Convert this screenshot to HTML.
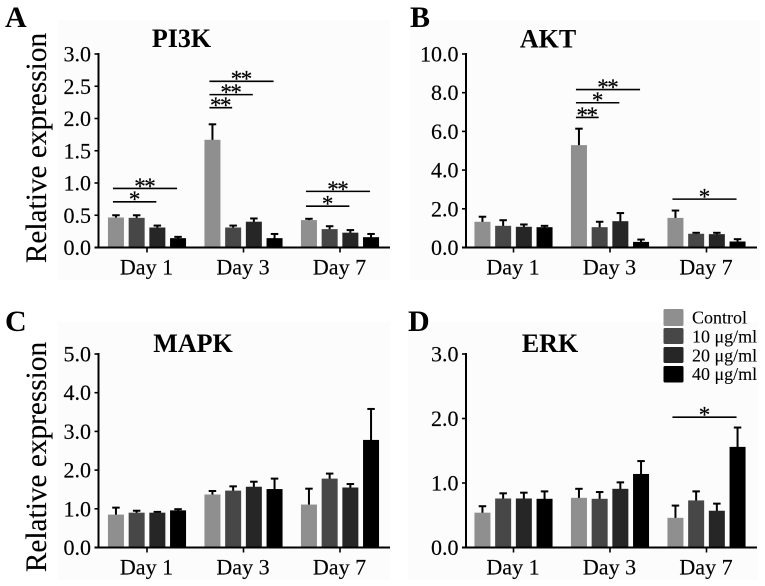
<!DOCTYPE html>
<html lang="en">
<head>
<meta charset="utf-8">
<title>Relative expression charts</title>
<style>
html,body{margin:0;padding:0;background:#fff;}
#figure{display:block;width:765px;height:586px;font-family:"Liberation Serif",serif;color:#000;filter:blur(0.35px);}
text{font-family:"Liberation Serif",serif;fill:#000;}
.tick{font-size:22px;stroke:#000;stroke-width:0.15px;}
.title{font-size:26px;font-weight:bold;text-anchor:middle;}
.letter{font-size:30px;font-weight:bold;}
.ytitle{font-size:29.3px;text-anchor:middle;stroke:#000;stroke-width:0.15px;}
.legend{font-size:18px;stroke:#000;stroke-width:0.1px;}
.star{font-size:23px;letter-spacing:-1.5px;text-anchor:middle;stroke:#000;stroke-width:0.2px;}
</style>
</head>
<body>
<svg id="figure" xmlns="http://www.w3.org/2000/svg" width="765" height="586" viewBox="0 0 765 586">
  <g fill="#fcfcfc">
    <rect x="58" y="20" width="332" height="260"/>
    <rect x="410" y="20" width="350" height="260"/>
    <rect x="58" y="322" width="332" height="258"/>
    <rect x="408" y="322" width="350" height="258"/>
  </g>
  <text class="letter" x="5" y="27">A</text>
  <text class="letter" x="410" y="27">B</text>
  <text class="letter" x="5" y="331">C</text>
  <text class="letter" x="408" y="331">D</text>
  <text class="title" x="181.5" y="47">PI3K</text>
  <text class="title" x="548" y="47.5">AKT</text>
  <text class="title" x="193" y="352">MAPK</text>
  <text class="title" x="550" y="352">ERK</text>
  <text class="ytitle" transform="translate(46 148) rotate(-90)">Relative expression</text>
  <text class="ytitle" transform="translate(46 457) rotate(-90)">Relative expression</text>
  <g id="charts"></g>
  <g>
    <rect x="663.5" y="309" width="20" height="17" rx="1.5" fill="#8f8f8f"/>
    <rect x="663.5" y="328" width="20" height="16" rx="1.5" fill="#474747"/>
    <rect x="663.5" y="347" width="20" height="16" rx="1.5" fill="#262626"/>
    <rect x="663.5" y="366" width="20" height="16.5" rx="1.5" fill="#000"/>
    <text class="legend" x="692" y="323.5">Control</text>
    <text class="legend" x="692" y="342.5">10 μg/ml</text>
    <text class="legend" x="692" y="361.5">20 μg/ml</text>
    <text class="legend" x="692" y="380">40 μg/ml</text>
  </g>
</svg>
<script>
const categories = ['Day 1', 'Day 3', 'Day 7'];
const seriesNames = ['Control', '10 ug/ml', '20 ug/ml', '40 ug/ml'];
const seriesColors = ['#8f8f8f', '#474747', '#262626', '#000000'];

const pi3kTicks = ['0.0', '0.5', '1.0', '1.5', '2.0', '2.5', '3.0'];
const pi3kValues = [[0.465, 0.46, 0.31, 0.145], [1.67, 0.31, 0.40, 0.145], [0.425, 0.285, 0.23, 0.16]];
const pi3kUpper = [[0.50, 0.50, 0.34, 0.165], [1.91, 0.34, 0.45, 0.21], [0.445, 0.33, 0.27, 0.21]];
const pi3kSigDay = [0, 0, 1, 1, 1, 2, 2];
const pi3kSigToBar = [3, 2, 3, 2, 1, 3, 2];
const pi3kSigLevel = [0.916, 0.709, 2.576, 2.37, 2.167, 0.87, 0.64];
const pi3kSigLabel = ['**', '*', '**', '**', '**', '**', '*'];

const aktTicks = ['0.0', '2.0', '4.0', '6.0', '8.0', '10.0'];
const aktValues = [[1.33, 1.12, 1.07, 1.05], [5.29, 1.05, 1.36, 0.29], [1.53, 0.71, 0.69, 0.31]];
const aktUpper = [[1.59, 1.41, 1.19, 1.12], [6.14, 1.33, 1.78, 0.41], [1.91, 0.76, 0.76, 0.43]];
const aktSigDay = [1, 1, 1, 2];
const aktSigToBar = [3, 2, 1, 3];
const aktSigLevel = [8.16, 7.48, 6.72, 2.5];
const aktSigLabel = ['**', '*', '**', '*'];

const mapkTicks = ['0.0', '1.0', '2.0', '3.0', '4.0', '5.0'];
const mapkValues = [[0.85, 0.90, 0.90, 0.96], [1.37, 1.47, 1.57, 1.51], [1.11, 1.78, 1.55, 2.78]];
const mapkUpper = [[1.03, 0.95, 0.92, 0.99], [1.46, 1.58, 1.70, 1.78], [1.52, 1.91, 1.64, 3.58]];
const mapkSigDay = [];
const mapkSigToBar = [];
const mapkSigLevel = [];
const mapkSigLabel = [];

const erkTicks = ['0.0', '1.0', '2.0', '3.0'];
const erkValues = [[0.54, 0.76, 0.76, 0.755], [0.77, 0.755, 0.91, 1.14], [0.46, 0.73, 0.57, 1.56]];
const erkUpper = [[0.64, 0.84, 0.85, 0.87], [0.91, 0.86, 1.01, 1.34], [0.65, 0.87, 0.68, 1.86]];
const erkSigDay = [2];
const erkSigToBar = [3];
const erkSigLevel = [2.02];
const erkSigLabel = ['*'];

const SVG_NS = 'http://www.w3.org/2000/svg';
const root = document.getElementById('charts');

function drawChart(name, box, ticks, values, upper, sigDay, sigToBar, sigLevel, sigLabel) {
  const g = document.createElementNS(SVG_NS, 'g');
  
  
  root.appendChild(g);

  const maxValue = parseFloat(ticks[ticks.length - 1]);
  const yScale = function (v) { return box.y0 - (v / maxValue) * (box.y0 - box.yTop); };
  const groupCenter = function (i) { return box.firstCenter + i * box.groupStep; };
  const barCenter = function (i, j) { return groupCenter(i) + (j - 1.5) * box.barStep; };

  categories.forEach(function (cat, i) {
    seriesNames.forEach(function (s, j) {
      const v = values[i][j];
      const cx = barCenter(i, j);
      const top = yScale(v);
      const up = yScale(upper[i][j]);

      const stem = document.createElementNS(SVG_NS, 'line');
      
      
      stem.setAttribute('x1', cx);
      stem.setAttribute('x2', cx);
      stem.setAttribute('y1', top + 1);
      stem.setAttribute('y2', up);
      stem.setAttribute('stroke', '#000');
      stem.setAttribute('stroke-width', 2);
      g.appendChild(stem);

      const cap = document.createElementNS(SVG_NS, 'line');
      
      
      cap.setAttribute('x1', cx - 3.75);
      cap.setAttribute('x2', cx + 3.75);
      cap.setAttribute('y1', up);
      cap.setAttribute('y2', up);
      cap.setAttribute('stroke', '#000');
      cap.setAttribute('stroke-width', 2);
      g.appendChild(cap);

      const bar = document.createElementNS(SVG_NS, 'rect');
      
      
      bar.setAttribute('x', cx - box.barWidth / 2);
      bar.setAttribute('y', top);
      bar.setAttribute('width', box.barWidth);
      bar.setAttribute('height', box.y0 - top);
      bar.setAttribute('fill', seriesColors[j]);
      g.appendChild(bar);
    });
  });

  const yAxis = document.createElementNS(SVG_NS, 'line');
  
  
  yAxis.setAttribute('x1', box.axisX);
  yAxis.setAttribute('x2', box.axisX);
  yAxis.setAttribute('y1', box.yTop - 1);
  yAxis.setAttribute('y2', box.y0 + 1);
  yAxis.setAttribute('stroke', '#000');
  yAxis.setAttribute('stroke-width', 2);
  g.appendChild(yAxis);

  const xAxis = document.createElementNS(SVG_NS, 'line');
  
  
  xAxis.setAttribute('x1', box.axisX - 4);
  xAxis.setAttribute('x2', box.axisEnd);
  xAxis.setAttribute('y1', box.y0);
  xAxis.setAttribute('y2', box.y0);
  xAxis.setAttribute('stroke', '#000');
  xAxis.setAttribute('stroke-width', 2);
  g.appendChild(xAxis);

  ticks.forEach(function (label) {
    const y = yScale(parseFloat(label));

    const tick = document.createElementNS(SVG_NS, 'line');
    
    
    tick.setAttribute('x1', box.axisX - 4);
    tick.setAttribute('x2', box.axisX);
    tick.setAttribute('y1', y);
    tick.setAttribute('y2', y);
    tick.setAttribute('stroke', '#000');
    tick.setAttribute('stroke-width', 1.6);
    g.appendChild(tick);

    const text = document.createElementNS(SVG_NS, 'text');
    
    
    text.setAttribute('class', 'tick');
    text.setAttribute('text-anchor', 'end');
    text.setAttribute('x', box.axisX - 7.5);
    text.setAttribute('y', y + 7.5);
    text.textContent = label;
    g.appendChild(text);
  });

  categories.forEach(function (cat, i) {
    const cx = groupCenter(i);

    const tick = document.createElementNS(SVG_NS, 'line');
    
    
    tick.setAttribute('x1', cx);
    tick.setAttribute('x2', cx);
    tick.setAttribute('y1', box.y0);
    tick.setAttribute('y2', box.y0 + 5);
    tick.setAttribute('stroke', '#000');
    tick.setAttribute('stroke-width', 1.6);
    g.appendChild(tick);

    const text = document.createElementNS(SVG_NS, 'text');
    
    
    text.setAttribute('class', 'tick');
    text.setAttribute('text-anchor', 'middle');
    text.setAttribute('x', cx - 0.5);
    text.setAttribute('y', box.y0 + 27);
    text.textContent = cat;
    g.appendChild(text);
  });

  sigDay.forEach(function (day, k) {
    const x1 = barCenter(day, 0) - 3;
    const x2 = barCenter(day, sigToBar[k]) - 1;
    const y = yScale(sigLevel[k]);

    const line = document.createElementNS(SVG_NS, 'line');
    
    
    line.setAttribute('x1', x1);
    line.setAttribute('x2', x2);
    line.setAttribute('y1', y);
    line.setAttribute('y2', y);
    line.setAttribute('stroke', '#000');
    line.setAttribute('stroke-width', 1.6);
    g.appendChild(line);

    const star = document.createElementNS(SVG_NS, 'text');
    
    
    star.setAttribute('class', 'star');
    star.setAttribute('x', (x1 + x2) / 2 - 0.75);
    star.setAttribute('y', y + 5.4);
    star.textContent = sigLabel[k];
    g.appendChild(star);
  });
}

const leftTop = { axisX: 98.5, axisEnd: 390, y0: 247.5, yTop: 54, firstCenter: 147, groupStep: 96.5, barStep: 20.7, barWidth: 16 };
const rightTop = { axisX: 466, axisEnd: 757, y0: 247.5, yTop: 54, firstCenter: 513.5, groupStep: 96.5, barStep: 20.7, barWidth: 16 };
const leftBottom = { axisX: 98.5, axisEnd: 390, y0: 547.5, yTop: 354, firstCenter: 147, groupStep: 96.5, barStep: 20.7, barWidth: 16 };
const rightBottom = { axisX: 466, axisEnd: 757, y0: 547.5, yTop: 354, firstCenter: 513.5, groupStep: 96.5, barStep: 20.7, barWidth: 16 };

drawChart('pi3k', leftTop, pi3kTicks, pi3kValues, pi3kUpper, pi3kSigDay, pi3kSigToBar, pi3kSigLevel, pi3kSigLabel);
drawChart('akt', rightTop, aktTicks, aktValues, aktUpper, aktSigDay, aktSigToBar, aktSigLevel, aktSigLabel);
drawChart('mapk', leftBottom, mapkTicks, mapkValues, mapkUpper, mapkSigDay, mapkSigToBar, mapkSigLevel, mapkSigLabel);
drawChart('erk', rightBottom, erkTicks, erkValues, erkUpper, erkSigDay, erkSigToBar, erkSigLevel, erkSigLabel);
</script>
</body>
</html>
